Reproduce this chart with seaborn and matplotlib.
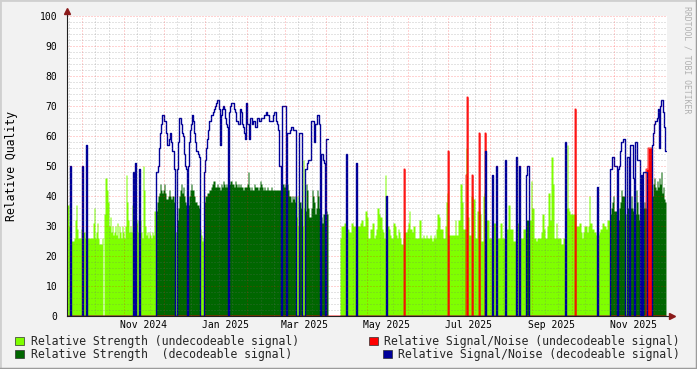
import numpy as np
import pandas as pd
import matplotlib
matplotlib.use("Agg")
import matplotlib.pyplot as plt
import matplotlib.dates as mdates
from matplotlib.ticker import MultipleLocator, NullFormatter
from matplotlib.patches import Patch
from matplotlib.lines import Line2D
import seaborn as sns

sns.set_style("white")
plt.rcParams["font.family"] = ["DejaVu Sans Mono"]

nan = np.nan

# ---------------- data (one sample every 0.745 day from START) ----------------
START = "2024-09-19 20:00"
STEP_DAYS = 0.745

# Relative strength, by period
STRENGTH_SEP_NOV = [37,37,30,30,25,25,25,26,32,37, 29,26,26,26,29,30,28,28,26,30,
                    26,26,26,26,26,26,31,36,26,28, 31,26,24,24,24,26,nan,34,46,46,
                    42,38,30,33,28,30,27,28,30,27, 31,26,30,28,26,30,28,26,30,47,
                    38,32,28,30,28,37,31,31,31,31, 32,28,32,32,28,26,50,42,30,27,
                    28,26,28,27,26,28,27,35,35]
STRENGTH_NOV_DEC = [35,38,40,41,44,42,41,42,44,41,39,39,40,42,40,39,40,40,38,
                    28,28,
                    32,36,40,42,44,41,43,40,38,37,
                    36,
                    37,40,42,44,42,42,40,38,38,37,37,36,
                    29,27,25,26]
STRENGTH_DEC_FEB = [38,40,40,41,41,42,42,43,44,45, 45,43,43,44,43,43,42,44,43,45,
                    44,43,44,43,42,44,45,45,44,44, 43,45,44,43,44,43,44,43,43,42,
                    43,43,43,44,48,43,42,43,42,42, 44,43,43,43,42,43,45,44,43,42,
                    43,42,42,43,42,42,42,43,42,42, 42,42,42,42,42,42,42]
STRENGTH_MAR = [35, 44,44,43,44, 40, 44,42,40,40,38,40,39,40,38, 33,40,30, 38,38,36,
                30,52,36, 35,44,42,36,33,33, 36,42,40,38,34,36,42,40,36, 38,
                33,31,34,34, 40, 35,34]
STRENGTH_GAP = [nan] * 12
STRENGTH_APR_JUN = [26,30,30,30,31,31, 30, 29,29,28,28,31,31,30,30,30, 30,
                    30,30,30,31,32,32,30,30,35,35,33,26,26,29,29,31,31,26,27,29,
                    36,36,34,33,33,29,28,26,47,
                    28,
                    30,30,29,27,26,26,31,31,30,27,26,29,28,26,24,24,26,
                    28,
                    28,28,29,31,35,29,29,28,30,30,26,26,26,26,32,32,26,26,27,26,
                    26,27,26,26,26,27,26,25,26,27,26,29,34,34,33,29,29,29,26,26,
                    30,38,41]
STRENGTH_JUN_SEP = [27,
                    27,27,27,27,27,27,32,27,27,32,32,44,44,38,29,29,29,
                    56, 33, 33,27,27,40, 40, 39,39,26,26,35,35, 35, 34,25,25,40,41,
                    41, 32,32,32,26,26,26, 30, 31,31,31, 30, 26,26,26,31,31,26,26,26,
                    30, 29,29,37,37,29,29,29,25,25,25, 30, 31,31, 30, 26,26,26,29,29,29,
                    32,32,32,
                    32,32,45,36,36,26,26,25,26,26,26,26,28,34,34,29,26,26,30,41,
                    41,32,53,53,44,26,26,31,26,26,26,26,24,24,26,26]
STRENGTH_OCT_NOV = [30, 36, 57, 36,35,34,34,34,34,34, 34,
                    30,30,30,31,31,28,26,28,30,30,30,28,30,40,31,31,29,29,28,28,27,
                    30,
                    27,28,29,29,31,31,30,30,29,32,32,32,
                    34,36,38,40,35,35,35, 30, 32,36,38,42,40,40,40, 34,34, 36,36, 30,
                    36,40,36,35, 36, 34,42,38,34,32, 32, 35, 35, 36,38,36,36,
                    35,35,33,33,33,
                    40,44,46,43,42,45,43,46,44,48,41,43,39,38]

# Relative signal/noise while decodeable: (count, value) runs or literal lists
SNR_DEC_SEP_NOV = [(3, 0), [50], (11, 0), [50], (3, 0), [57], (46, 0), [48], [0], [51],
                   (3, 0), [49], (16, 0)]
SNR_DEC_NOV_DEC = [[48,48,50,56,61,64,67,67,65,65,61,57,57,59,61,58,55,55,49],
                   (2, 0),
                   [49,58,66,66,64,61,60,54,50,49],
                   [0],
                   [50,58,62,64,67,65,61,58,55,55,54,53],
                   (4, 0)]
SNR_DEC_DEC_FEB = [[48,52,56,59,62,65,65,67,67,68, 69,70,71,72,72,69,57,67,69,70,
                    69,66,64,63,0,68,70,71,71,71, 69,68,65,65,64,64,69,68,64,63,
                    61,59,71,64,64,59,66,66,64,65, 65,63,63,66,66,65,65,66,66,66,
                    67,67,68,67,67,65,65,65,65,67, 68,68,65,64,62,50,50]]
SNR_DEC_MAR = [[0, 70,70,70,70, 0, 61,61,61,62,63,63,62,62,62, 0,0,0, 61,61,61, 0,0,0,
                49,49,51,52,52,52, 65,65,65,58,64,64,67,67,64, 0, 54,54,52,51, 0, 59,59]]
SNR_DEC_GAP = [(12, nan)]
SNR_DEC_APR_JUN = [(6, 0), [54], (9, 0), [51], (29, 0), [40], (61, 0)]
SNR_DEC_JUN_SEP = [(37, 0), [55], (6, 0), [47], (3, 0), [50], (8, 0), [52], (10, 0),
                   [53], (2, 0), [50], (6, 0), [47, 50, 50], (36, 0)]
SNR_DEC_OCT_NOV = [[58], (31, 0), [43], (12, 0), [49,49,53,53,50,50,50], [0],
                   [49,50,55,58,58,59,59], (2, 0), [53,53], [0], [57,57,57,46], [0],
                   [58,58,52,52,52], [0], [47], [0], [48,48,48,48], (5, 0),
                   [57,61,64,65,65,66,69,56,70,72,72,68,63,55]]

# Relative signal/noise while undecodeable
SNR_UNDEC = [(337, 0), [49], (43, 0), [55], (17, 0), [47, 73], (4, 0), [47], (6, 0),
             [61], (5, 0), [61], (89, 0), [69], (70, 0), [49, 49, 56, 56, 56, 56], (14, 0)]

LABELS = ["Relative Strength (undecodeable signal)",
          "Relative Strength  (decodeable signal)",
          "Relative Signal/Noise (undecodeable signal)",
          "Relative Signal/Noise (decodeable signal)"]
COLORS = ["#7FFF00", "#006600", "#FF0000", "#000099"]


def expand(parts):
    out = []
    for p in parts:
        if isinstance(p, tuple):
            out.extend([p[1]] * p[0])
        else:
            out.extend(p)
    return out


strength = np.array(STRENGTH_SEP_NOV + STRENGTH_NOV_DEC + STRENGTH_DEC_FEB + STRENGTH_MAR
                    + STRENGTH_GAP + STRENGTH_APR_JUN + STRENGTH_JUN_SEP + STRENGTH_OCT_NOV,
                    dtype=float)
snr_dec = np.array(expand(SNR_DEC_SEP_NOV + SNR_DEC_NOV_DEC + SNR_DEC_DEC_FEB + SNR_DEC_MAR
                          + SNR_DEC_GAP + SNR_DEC_APR_JUN + SNR_DEC_JUN_SEP + SNR_DEC_OCT_NOV),
                   dtype=float)
snr_undec = np.array(expand(SNR_UNDEC), dtype=float)

N = max(len(strength), len(snr_dec), len(snr_undec))


def pad(a, fill):
    return np.concatenate([a, np.full(N - len(a), fill)]) if len(a) < N else a[:N]


strength = pad(strength, nan)
snr_dec = pad(snr_dec, 0.0)
snr_undec = pad(snr_undec, 0.0)

t0 = pd.Timestamp(START)
times = t0 + pd.to_timedelta(np.arange(N + 1) * STEP_DAYS, unit="D")
tn = mdates.date2num(times.to_pydatetime())
t_end = mdates.date2num((t0 + pd.to_timedelta(600 * STEP_DAYS, unit="D")).to_pydatetime())

# ---------------- figure ----------------
fig = plt.figure(figsize=(6.97, 3.69), dpi=100, facecolor="#F2F2F2")
ax = fig.add_axes([67 / 697, 53 / 369, 600 / 697, 300 / 369])
ax.set_facecolor("white")

dec = np.nan_to_num(snr_dec) > 0
s = np.nan_to_num(strength)
light = np.where(dec, 0.0, s)
dark = np.where(dec, s, 0.0)
red = np.nan_to_num(snr_undec)


def step_area(vals, color, z):
    y = np.append(vals, vals[-1])
    ax.fill_between(tn, 0, y, step="post", color=color, linewidth=0, zorder=z,
                    antialiased=False)


step_area(light, COLORS[0], 1.0)
step_area(dark, COLORS[1], 1.1)
step_area(red, COLORS[2], 1.2)
# crisp outline of the red areas
ax.plot(tn, np.append(red, red[-1]), drawstyle="steps-post", color=COLORS[2],
        linewidth=0.6, zorder=1.3)

# blue line via seaborn, split into contiguous segments (no data -> gap)
rows = []
seg = 0
i = 0
while i < N:
    if np.isnan(snr_dec[i]):
        i += 1
        continue
    j = i
    while j < N and not np.isnan(snr_dec[j]):
        rows.append((tn[j], snr_dec[j], seg))
        j += 1
    rows.append((tn[j], snr_dec[j - 1], seg))
    seg += 1
    i = j
df = pd.DataFrame(rows, columns=["time", "snr", "seg"])
sns.lineplot(data=df, x="time", y="snr", units="seg", estimator=None, sort=False,
             color=COLORS[3], linewidth=1.0, drawstyle="steps-post", ax=ax,
             legend=False, zorder=2)

ax.set_xlim(tn[0], t_end)
ax.set_ylim(0, 100)
ax.set_xlabel("")
ax.set_ylabel("")

# grid (drawn over the data as in rrdtool)
ax.set_axisbelow(False)
ax.xaxis.set_major_locator(mdates.MonthLocator())
ax.xaxis.set_minor_locator(mdates.DayLocator(bymonthday=[11, 21]))
ax.xaxis.set_major_formatter(NullFormatter())
ax.xaxis.set_minor_formatter(NullFormatter())
ax.yaxis.set_major_locator(MultipleLocator(10))
ax.yaxis.set_minor_locator(MultipleLocator(2))
ax.grid(which="major", axis="both", color="#FF0000", alpha=0.35,
        linestyle=(0, (1, 2)), linewidth=0.72)
ax.grid(which="minor", axis="both", color="#707070", alpha=0.38,
        linestyle=(0, (1, 2)), linewidth=0.72)

ax.tick_params(axis="x", which="major", direction="out", length=3, width=0.8,
               color="#E07070")
ax.tick_params(axis="x", which="minor", direction="out", length=2, width=0.8,
               color="#B0B0B0")
ax.tick_params(axis="y", which="major", direction="out", length=3, width=0.8,
               color="#808080", labelsize=7, pad=4, labelcolor="#000000")
ax.tick_params(axis="y", which="minor", length=0)

for side in ["top", "right"]:
    ax.spines[side].set_visible(False)
for side in ["left", "bottom"]:
    ax.spines[side].set_color("#202020")
    ax.spines[side].set_linewidth(0.8)
    ax.spines[side].set_zorder(5)

# axis arrows
ax.plot([0, 0], [1, 1.012], transform=ax.transAxes, color="#202020", lw=0.8,
        clip_on=False, zorder=5)
ax.plot([1, 1.006], [0, 0], transform=ax.transAxes, color="#202020", lw=0.8,
        clip_on=False, zorder=5)
ax.plot([0], [1.018], transform=ax.transAxes, marker="^", ms=4, color="#8B1A1A",
        mec="#8B1A1A", clip_on=False, zorder=6)
ax.plot([1.009], [0], transform=ax.transAxes, marker=">", ms=4, color="#8B1A1A",
        mec="#8B1A1A", clip_on=False, zorder=6)

# month labels, centred in the month
sec = ax.secondary_xaxis("bottom")
sec.xaxis.set_major_locator(mdates.MonthLocator(bymonth=[1, 3, 5, 7, 9, 11], bymonthday=16))
sec.xaxis.set_major_formatter(mdates.DateFormatter("%b %Y"))
sec.tick_params(length=0, labelsize=7, pad=3, labelcolor="#000000")
sec.spines["bottom"].set_visible(False)

# y label & watermark
fig.text(12 / 697, 1 - 166 / 369, "Relative Quality", rotation=90, ha="center",
         va="center", fontsize=8.3, color="#000000")
fig.text(687 / 697, 1 - 60 / 369, "RRDTOOL / TOBI OETIKER", rotation=270, ha="center",
         va="center", fontsize=5.9, color="#B0B0B0")

# legend (rrdtool-like layout)
handles = [Patch(facecolor=c, edgecolor="#303030", linewidth=0.5) for c in COLORS]
leg_kw = dict(frameon=False, fontsize=8.3, handlelength=0.8, handleheight=0.8,
              handletextpad=0.55, borderpad=0, borderaxespad=0)
y1 = 1 - 341.5 / 369
y2 = 1 - 354.5 / 369
legs = [
    fig.legend([handles[0]], [LABELS[0]], loc="center left", bbox_to_anchor=(15 / 697, y1), **leg_kw),
    fig.legend([handles[1]], [LABELS[1]], loc="center left", bbox_to_anchor=(15 / 697, y2), **leg_kw),
    fig.legend([handles[2]], [LABELS[2]], loc="center right", bbox_to_anchor=(680 / 697, y1), **leg_kw),
    fig.legend([handles[3]], [LABELS[3]], loc="center right", bbox_to_anchor=(680 / 697, y2), **leg_kw),
]

# 3-D style frame
fig.add_artist(Line2D([0, 1], [1, 1], transform=fig.transFigure, color="#D0D0D0", lw=2))
fig.add_artist(Line2D([0, 0], [0, 1], transform=fig.transFigure, color="#D0D0D0", lw=2))
fig.add_artist(Line2D([0, 1], [0, 0], transform=fig.transFigure, color="#9C9C9C", lw=2.5))
fig.add_artist(Line2D([1, 1], [0, 1], transform=fig.transFigure, color="#9C9C9C", lw=2.5))

fig.savefig("out.png", dpi=100, facecolor=fig.get_facecolor())
